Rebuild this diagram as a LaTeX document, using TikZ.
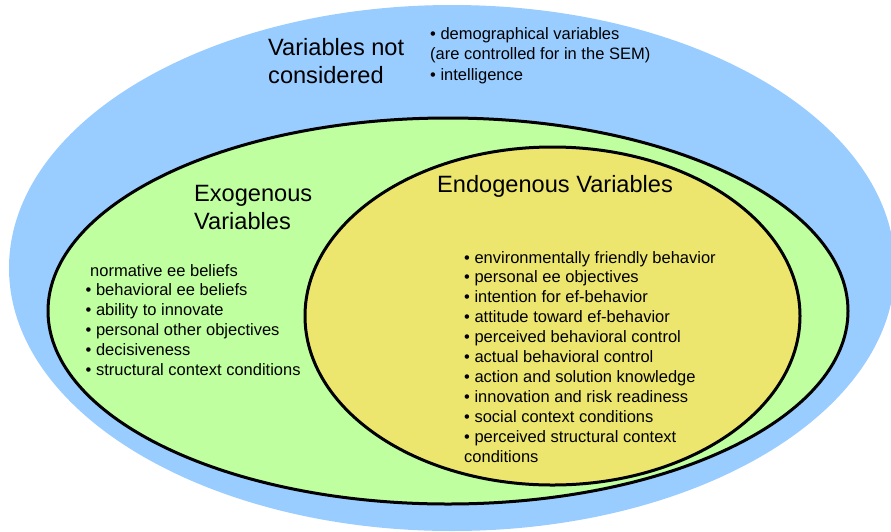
\documentclass[tikz,border=0pt]{standalone}
\usepackage{fontspec}
\setmainfont{Liberation Sans}
\definecolor{outerblue}{RGB}{153,204,255}
\definecolor{exogreen}{RGB}{192,255,160}
\definecolor{endoyellow}{RGB}{237,230,110}
\begin{document}
\begin{tikzpicture}[x=1pt,y=-1pt,
  region/.style={draw=black,line width=3pt},
  titletext/.style={anchor=base west,inner sep=0pt,align=left,font=\fontsize{23.6}{28}\selectfont},
  listtext/.style={anchor=base west,inner sep=0pt,align=left,font=\fontsize{16.5}{19.8}\selectfont}]
\useasboundingbox (0,0) rectangle (891,531);
% outer region
\fill[outerblue] (452,268) ellipse [x radius=443, y radius=263];
% exogenous
\path[region,fill=exogreen] (448,311) ellipse [x radius=400, y radius=193];
% endogenous
\path[region,fill=endoyellow] (552.5,316) ellipse [x radius=247.5, y radius=169];
% texts (anchor = baseline of last line)
\node[titletext] (nottitle) at (268,83) {Variables not\\considered};
\node[listtext,font=\fontsize{16.5}{20.5}\selectfont] (notlist) at (430,80) {• demographical variables\\(are controlled for in the SEM)\\• intelligence};
\node[titletext] (exotitle) at (194,229) {Exogenous\\Variables};
\node[listtext,font=\fontsize{16.5}{19.8}\selectfont] (exolist) at (85.5,375) {\hspace{4.5pt}normative ee beliefs\\• behavioral ee beliefs\\• ability to innovate\\• personal other objectives\\• decisiveness\\• structural context conditions};
\node[titletext] (endotitle) at (437,192) {Endogenous Variables};
\node[listtext,font=\fontsize{16.5}{19.9}\selectfont] (endolist) at (464,462) {• environmentally friendly behavior\\• personal ee objectives\\• intention for ef-behavior\\• attitude toward ef-behavior\\• perceived behavioral control\\• actual behavioral control\\• action and solution knowledge\\• innovation and risk readiness\\• social context conditions\\• perceived structural context\\conditions};
\end{tikzpicture}
\end{document}
